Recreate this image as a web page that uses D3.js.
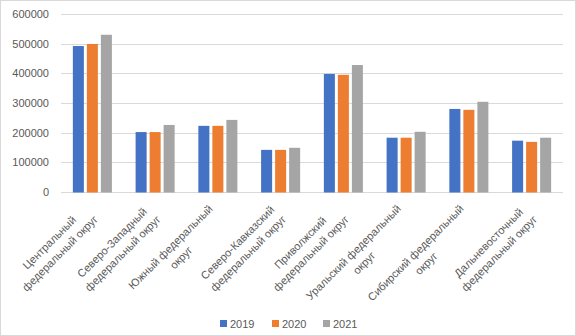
<!DOCTYPE html>
<html>
<head>
<meta charset="utf-8">
<script src="https://cdn.jsdelivr.net/npm/d3@7"></script>
<style>
  body { margin: 0; background: #fff; }
  text { font-family: "Liberation Sans", Arial, sans-serif; fill: #595959; }
</style>
</head>
<body>
<div id="chart"></div>
<script>
// Federal districts, three years of values
let categories = ["Центральный федеральный округ", "Северо-Западный федеральный округ", "Южный федеральный округ",
  "Северо-Кавказский федеральный округ", "Приволжский федеральный округ", "Уральский федеральный округ",
  "Сибирский федеральный округ", "Дальневосточный федеральный округ"];
let labelLines = [["Центральный", "федеральный округ"], ["Северо-Западный", "федеральный округ"],
  ["Южный федеральный", "округ"], ["Северо-Кавказский", "федеральный округ"], ["Приволжский", "федеральный округ"],
  ["Уральский федеральный", "округ"], ["Сибирский федеральный", "округ"], ["Дальневосточный", "федеральный округ"]];
let years = ["2019", "2020", "2021"];
let values2019 = [492000, 202000, 223000, 142000, 398000, 183000, 280000, 173000];
let values2020 = [499000, 202000, 223000, 142000, 395000, 183000, 277000, 169000];
let values2021 = [530000, 226000, 243000, 149000, 428000, 203000, 304000, 183000];
let yTicks = [0, 100000, 200000, 300000, 400000, 500000, 600000];

let series = [values2019, values2020, values2021];
let colors = ["#4472C4", "#ED7D31", "#A5A5A5"];

let W = 576, H = 336;
let plot = {left: 61, right: 563, top: 14, bottom: 192};

let svg = d3.select("#chart")
    .append("svg")
    .attr("width", W)
    .attr("height", H);

// outer frame
svg.append("rect")
    .attr("x", 0.5).attr("y", 0.5)
    .attr("width", W - 1).attr("height", H - 1)
    .attr("fill", "#fff")
    .attr("stroke", "#D9D9D9");

let x = d3.scaleBand()
    .domain(categories)
    .range([plot.left, plot.right])
    .paddingInner(0.378)
    .paddingOuter(0.189);

let xInner = d3.scaleBand()
    .domain(years)
    .range([0, x.bandwidth()])
    .paddingInner(0.214);

let y = d3.scaleLinear()
    .domain([0, 600000])
    .range([plot.bottom, plot.top]);

// gridlines
svg.append("g")
    .selectAll("line")
    .data(yTicks)
    .enter()
    .append("line")
    .attr("x1", plot.left)
    .attr("x2", plot.right)
    .attr("y1", d => Math.round(y(d)) + 0.5)
    .attr("y2", d => Math.round(y(d)) + 0.5)
    .attr("stroke", "#D9D9D9")
    .attr("stroke-width", 1);

// y tick labels
svg.append("g")
    .selectAll("text")
    .data(yTicks)
    .enter()
    .append("text")
    .attr("x", 49)
    .attr("y", d => y(d) + 4)
    .attr("text-anchor", "end")
    .style("font-size", "11px")
    .text(d => d);

// bars
years.forEach(function(yr, si) {
    svg.append("g")
        .selectAll("rect")
        .data(series[si])
        .enter()
        .append("rect")
        .attr("x", (d, i) => x(categories[i]) + xInner(yr))
        .attr("y", d => y(d))
        .attr("width", xInner.bandwidth())
        .attr("height", d => plot.bottom - y(d) + 0.5)
        .attr("fill", colors[si]);
});

// category labels, rotated -45, centred lines, right end at the tick
let lh = 15;
categories.forEach(function(c, i) {
    let cx = x(c) + x.bandwidth() / 2;
    let g = svg.append("g")
        .attr("transform", "translate(" + (cx - 2) + "," + 212 + ") rotate(-45)");
    let lines = labelLines[i];
    let texts = g.selectAll("text")
        .data(lines)
        .enter()
        .append("text")
        .attr("text-anchor", "middle")
        .attr("y", (d, j) => (j - (lines.length - 1) / 2) * lh + 4)
        .style("font-size", "11px")
        .text(d => d);
    let maxW = d3.max(texts.nodes(), n => n.getComputedTextLength());
    texts.attr("x", -maxW / 2);
});

// legend
let legendX = [220, 272, 323];
let legend = svg.append("g");
years.forEach(function(yr, si) {
    legend.append("rect")
        .attr("x", legendX[si])
        .attr("y", 320)
        .attr("width", 7)
        .attr("height", 7)
        .attr("fill", colors[si]);
    legend.append("text")
        .attr("x", legendX[si] + 10)
        .attr("y", 328)
        .style("font-size", "11px")
        .text(yr);
});
</script>
</body>
</html>
